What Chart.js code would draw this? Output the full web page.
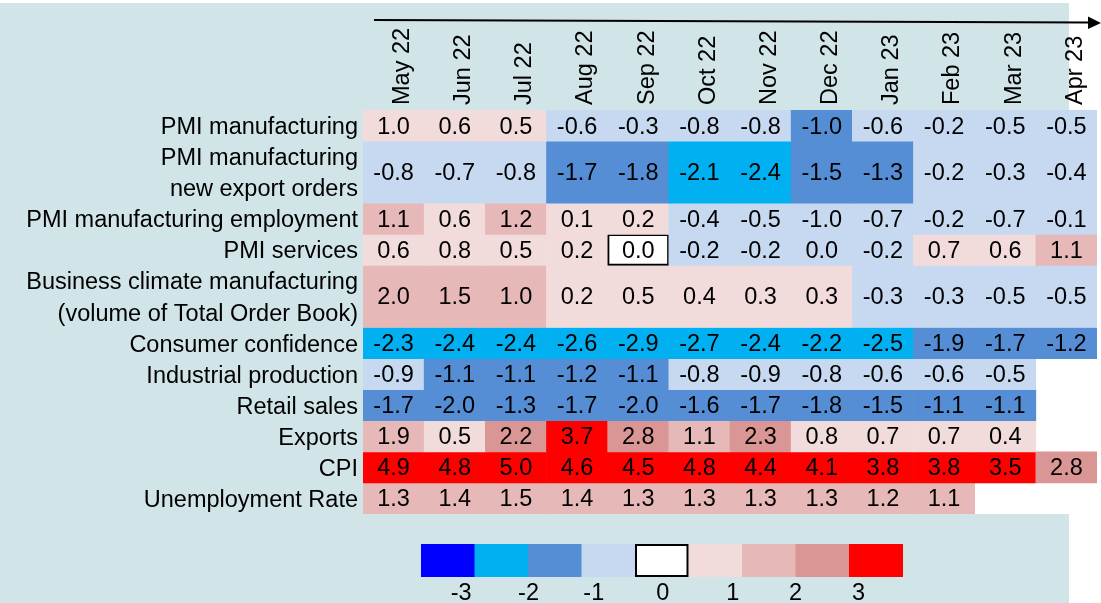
<!DOCTYPE html>
<html lang="en">
<head>
  <meta charset="UTF-8">
  <title>Indicator heatmap</title>
  <script src="https://cdn.jsdelivr.net/npm/chart.js"></script>
  <style>
    html, body { margin: 0; padding: 0; background: #fff; }
    #chart-container { width: 1101px; height: 603px; }
  </style>
</head>
<body>
  <div id="chart-container">
    <canvas id="heatmap" width="1101" height="603"></canvas>
  </div>
  <script>
    // Data
    const months = ['May 22', 'Jun 22', 'Jul 22', 'Aug 22', 'Sep 22', 'Oct 22',
                    'Nov 22', 'Dec 22', 'Jan 23', 'Feb 23', 'Mar 23', 'Apr 23'];

    const indicators = [
      'PMI manufacturing',
      ['PMI manufacturing', 'new export orders'],
      'PMI manufacturing employment',
      'PMI services',
      ['Business climate manufacturing', '(volume of Total Order Book)'],
      'Consumer confidence',
      'Industrial production',
      'Retail sales',
      'Exports',
      'CPI',
      'Unemployment Rate'
    ];

    const values = [
      [1.0, 0.6, 0.5, -0.6, -0.3, -0.8, -0.8, -1.0, -0.6, -0.2, -0.5, -0.5],
      [-0.8, -0.7, -0.8, -1.7, -1.8, -2.1, -2.4, -1.5, -1.3, -0.2, -0.3, -0.4],
      [1.1, 0.6, 1.2, 0.1, 0.2, -0.4, -0.5, -1.0, -0.7, -0.2, -0.7, -0.1],
      [0.6, 0.8, 0.5, 0.2, 0.0, -0.2, -0.2, 0.0, -0.2, 0.7, 0.6, 1.1],
      [2.0, 1.5, 1.0, 0.2, 0.5, 0.4, 0.3, 0.3, -0.3, -0.3, -0.5, -0.5],
      [-2.3, -2.4, -2.4, -2.6, -2.9, -2.7, -2.4, -2.2, -2.5, -1.9, -1.7, -1.2],
      [-0.9, -1.1, -1.1, -1.2, -1.1, -0.8, -0.9, -0.8, -0.6, -0.6, -0.5, null],
      [-1.7, -2.0, -1.3, -1.7, -2.0, -1.6, -1.7, -1.8, -1.5, -1.1, -1.1, null],
      [1.9, 0.5, 2.2, 3.7, 2.8, 1.1, 2.3, 0.8, 0.7, 0.7, 0.4, null],
      [4.9, 4.8, 5.0, 4.6, 4.5, 4.8, 4.4, 4.1, 3.8, 3.8, 3.5, 2.8],
      [1.3, 1.4, 1.5, 1.4, 1.3, 1.3, 1.3, 1.3, 1.2, 1.1, null, null]
    ];

    // colour class of each cell as shown (index into the colour scale below)
    const shades = [
      [5, 5, 5, 3, 3, 3, 3, 2, 3, 3, 3, 3],
      [3, 3, 3, 2, 2, 1, 1, 2, 2, 3, 3, 3],
      [6, 5, 6, 5, 5, 3, 3, 3, 3, 3, 3, 3],
      [5, 5, 5, 5, 4, 3, 3, 3, 3, 5, 5, 6],
      [6, 6, 6, 5, 5, 5, 5, 5, 3, 3, 3, 3],
      [1, 1, 1, 1, 1, 1, 1, 1, 1, 2, 2, 2],
      [3, 2, 2, 2, 2, 3, 3, 3, 3, 3, 3, null],
      [2, 2, 2, 2, 2, 2, 2, 2, 2, 2, 2, null],
      [6, 5, 7, 8, 7, 6, 7, 5, 5, 5, 5, null],
      [8, 8, 8, 8, 8, 8, 8, 8, 8, 8, 8, 7],
      [6, 6, 6, 6, 6, 6, 6, 6, 6, 6, null, null]
    ];

    const scaleTicks = ['-3', '-2', '-1', '0', '1', '2', '3'];

    // styling
    const palette = ['#0000ff', '#00b0f0', '#558ed5', '#c6d9f1', '#ffffff',
                     '#f2dcdb', '#e6b9b8', '#d99694', '#ff0000'];
    const bgTeal = '#d1e4e7';
    const fontFamily = '"Liberation Sans", Arial, sans-serif';
    const fontSize = 23.5;

    // row bands: two-line labels get a double-height row
    const rowSize = indicators.map(l => Array.isArray(l) ? l.length : 1);
    const rowStart = [];
    let acc = 0;
    rowSize.forEach(s => { rowStart.push(acc); acc += s; });
    const totalRows = acc;
    const rowCenter = rowStart.map((s, i) => s + rowSize[i] / 2);

    const datasets = values.map((row, r) => ({
      label: Array.isArray(indicators[r]) ? indicators[r].join(' ') : indicators[r],
      data: row.map(v => v === null ? null : [rowStart[r], rowStart[r] + rowSize[r]]),
      backgroundColor: shades[r].map(s => s === null ? 'rgba(0,0,0,0)' : palette[s]),
      borderColor: '#000',
      borderWidth: shades[r].map(s => s === 4 ? 2 : 0),
      borderSkipped: false,
      barPercentage: 1,
      categoryPercentage: 1,
      grouped: false
    }));

    const backgroundPlugin = {
      id: 'backgroundPlugin',
      beforeDraw(chart) {
        const { ctx, chartArea } = chart;
        ctx.save();
        ctx.fillStyle = bgTeal;
        ctx.fillRect(0, 3, 1069, chart.height - 3);
        ctx.fillStyle = '#fff';
        ctx.fillRect(chartArea.left, chartArea.top, chartArea.right - chartArea.left, chartArea.bottom - chartArea.top);
        ctx.restore();
      }
    };

    // numbers inside the cells
    const cellTextPlugin = {
      id: 'cellTextPlugin',
      afterDatasetsDraw(chart) {
        const { ctx } = chart;
        ctx.save();
        ctx.font = fontSize + 'px ' + fontFamily;
        ctx.fillStyle = '#000';
        ctx.textAlign = 'center';
        ctx.textBaseline = 'middle';
        chart.data.datasets.forEach((ds, r) => {
          const meta = chart.getDatasetMeta(r);
          meta.data.forEach((el, i) => {
            const v = values[r][i];
            if (v === null) return;
            ctx.fillText(v.toFixed(1), el.x, (el.y + el.base) / 2 + 1.5);
          });
        });
        ctx.restore();
      }
    };

    // time arrow on top and the colour scale below
    const decorPlugin = {
      id: 'decorPlugin',
      afterDraw(chart) {
        const { ctx } = chart;
        ctx.save();
        ctx.strokeStyle = '#000';
        ctx.lineWidth = 2;
        ctx.beginPath();
        ctx.moveTo(374, 20);
        ctx.lineTo(1090, 22.5);
        ctx.stroke();
        ctx.fillStyle = '#000';
        ctx.beginPath();
        ctx.moveTo(1101, 23);
        ctx.lineTo(1088, 16.5);
        ctx.lineTo(1088, 29);
        ctx.closePath();
        ctx.fill();

        const x0 = 421, w = 53.5, y0 = 544, h = 33;
        palette.forEach((c, i) => {
          ctx.fillStyle = c;
          ctx.fillRect(x0 + i * w, y0, w + 0.5, h);
        });
        ctx.lineWidth = 2;
        ctx.strokeRect(x0 + 4 * w + 1, y0 + 1, w - 2, h - 2);

        const tickPos = [0.75, 2.01, 3.23, 4.52, 5.83, 7.0, 8.18];
        ctx.font = fontSize + 'px ' + fontFamily;
        ctx.fillStyle = '#000';
        ctx.textAlign = 'center';
        ctx.textBaseline = 'middle';
        scaleTicks.forEach((t, i) => {
          ctx.fillText(t, x0 + tickPos[i] * w, 594);
        });
        ctx.restore();
      }
    };

    new Chart(document.getElementById('heatmap').getContext('2d'), {
      type: 'bar',
      data: { labels: months, datasets },
      options: {
        responsive: false,
        animation: false,
        maintainAspectRatio: false,
        layout: { padding: { top: 0, right: 4, bottom: 89, left: 0 } },
        plugins: {
          legend: { display: false },
          tooltip: { enabled: false }
        },
        scales: {
          x: {
            position: 'top',
            grid: { display: false, drawTicks: false },
            border: { display: false },
            ticks: {
              autoSkip: false,
              minRotation: 90,
              maxRotation: 90,
              padding: 5,
              labelOffset: 37,
              color: '#000',
              font: { family: fontFamily, size: fontSize }
            },
            afterFit(scale) { scale.height = 110; }
          },
          y: {
            type: 'linear',
            min: 0,
            max: totalRows,
            reverse: true,
            grid: { display: false, drawTicks: false },
            border: { display: false },
            afterBuildTicks(scale) {
              scale.ticks = rowCenter.map(v => ({ value: v }));
            },
            ticks: {
              autoSkip: false,
              padding: 5,
              labelOffset: 2,
              color: '#000',
              font: { family: fontFamily, size: fontSize, lineHeight: 1.33 },
              callback(value, index) { return indicators[index]; }
            },
            afterFit(scale) { scale.width = 363; }
          }
        }
      },
      plugins: [backgroundPlugin, cellTextPlugin, decorPlugin]
    });
  </script>
</body>
</html>
